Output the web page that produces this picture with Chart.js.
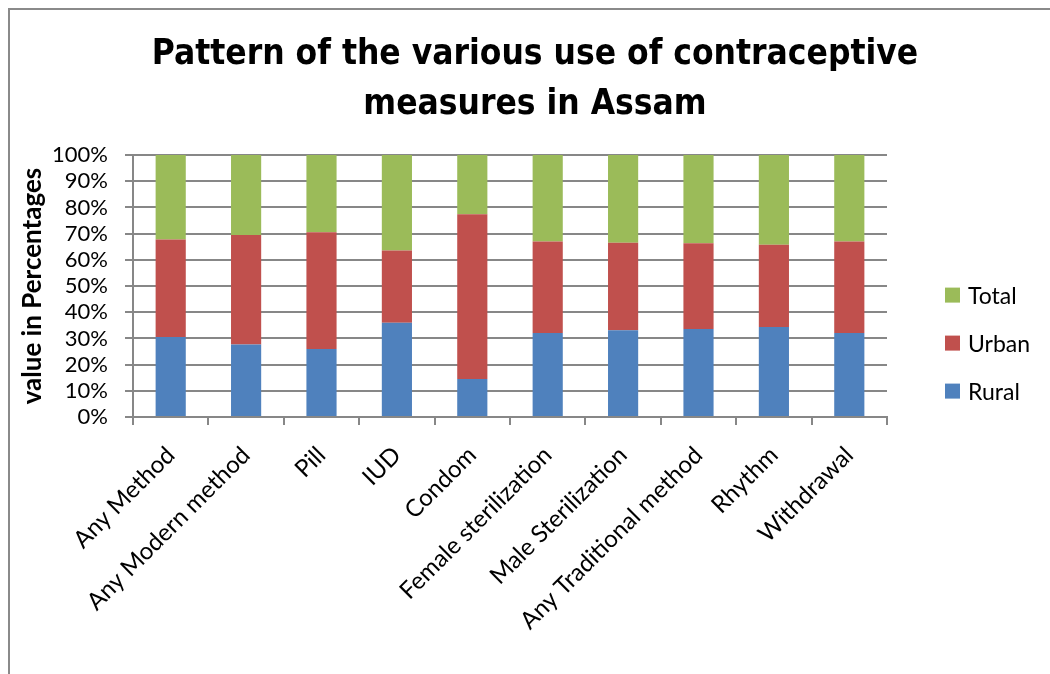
<!DOCTYPE html>
<html>
<head>
<meta charset="utf-8">
<script src="https://cdn.jsdelivr.net/npm/chart.js@4.4.1/dist/chart.umd.min.js"></script>
<style>
  html, body { margin: 0; padding: 0; background: #fff; }
  canvas { display: block; }
</style>
</head>
<body>
<canvas id="chart" width="1050" height="674"></canvas>
<script>
// share of each group per method
const categories = ['Any Method', 'Any Modern method', 'Pill', 'IUD', 'Condom',
  'Female sterilization', 'Male Sterilization', 'Any Traditional method', 'Rhythm', 'Withdrawal'];
const rural = [30.5, 27.7, 26.0, 36.0, 14.5, 32.1, 33.1, 33.6, 34.4, 32.1];
const urban = [37.3, 41.8, 44.5, 27.6, 62.9, 34.9, 33.4, 32.7, 31.4, 34.9];
const total = [32.2, 30.5, 29.5, 36.4, 22.6, 33.0, 33.5, 33.7, 34.2, 33.0];
const yMax = 100;
const yStep = 10;

const gridColor = '#878787';
const font = "Lato, 'Open Sans', sans-serif";

// grey frame round the whole chart (right and bottom edges fall off the page)
const frame = {
  id: 'frame',
  beforeDraw(chart) {
    const ctx = chart.ctx;
    ctx.save();
    ctx.fillStyle = '#fff';
    ctx.fillRect(0, 0, chart.width, chart.height);
    ctx.strokeStyle = '#8a8a8a';
    ctx.lineWidth = 2;
    ctx.strokeRect(9, 9, chart.width + 20, chart.height + 20);
    ctx.restore();
  }
};

// legend on the right, top entry = last dataset (as in the stack)
const sideLegend = {
  id: 'sideLegend',
  afterDraw(chart) {
    const ctx = chart.ctx;
    const area = chart.chartArea;
    const items = chart.data.datasets.slice().reverse();
    ctx.save();
    ctx.font = '23px ' + font;
    ctx.textBaseline = 'middle';
    items.forEach((ds, i) => {
      const y = area.top + 140 + i * 48;
      ctx.fillStyle = ds.backgroundColor;
      ctx.fillRect(area.right + 58, y - 7.5, 15, 15);
      ctx.fillStyle = '#000';
      ctx.fillText(ds.label, area.right + 81, y + 1);
    });
    ctx.restore();
  }
};

new Chart(document.getElementById('chart'), {
  type: 'bar',
  data: {
    labels: categories,
    datasets: [
      { label: 'Rural', data: rural, backgroundColor: '#4F81BD' },
      { label: 'Urban', data: urban, backgroundColor: '#C0504D' },
      { label: 'Total', data: total, backgroundColor: '#9BBB59' }
    ]
  },
  options: {
    responsive: false,
    animation: false,
    devicePixelRatio: 1,
    categoryPercentage: 1,
    barPercentage: 0.4,
    layout: { padding: { left: 20, right: 0, top: 0, bottom: 0 } },
    plugins: {
      legend: { display: false },
      tooltip: { enabled: false },
      title: {
        display: true,
        text: ['Pattern of the various use of contraceptive', 'measures in Assam'],
        color: '#000',
        font: { family: "'DejaVu Sans Condensed', sans-serif", size: 35, weight: 'bold', lineHeight: 1.43 },
        padding: { top: 30, bottom: 25 }
      }
    },
    scales: {
      x: {
        stacked: true,
        afterFit: s => { s.height = 257; },
        grid: { drawOnChartArea: false, drawTicks: true, tickLength: 8, color: gridColor, lineWidth: 2 },
        border: { color: gridColor, width: 2 },
        ticks: {
          color: '#000',
          autoSkip: false,
          minRotation: 45,
          maxRotation: 45,
          padding: 16,
          font: { family: font, size: 24 }
        }
      },
      y: {
        stacked: true,
        min: 0,
        max: yMax,
        afterFit: s => { s.width = 113; },
        grid: { color: gridColor, lineWidth: 2, tickLength: 8 },
        border: { color: gridColor, width: 2 },
        ticks: {
          stepSize: yStep,
          autoSkip: false,
          color: '#000',
          padding: 17,
          font: { family: font, size: 22 },
          callback: v => v + '%'
        },
        title: {
          display: true,
          text: 'value in Percentages',
          color: '#000',
          font: { family: font, size: 26, weight: 'bold', lineHeight: 1 },
          padding: { top: 0, bottom: 0 }
        }
      },
      // empty axis that only reserves the space where the legend sits
      side: {
        position: 'right',
        afterFit: s => { s.width = 163; },
        grid: { display: false },
        border: { display: false },
        ticks: { display: false }
      }
    }
  },
  plugins: [frame, sideLegend]
});
</script>
</body>
</html>
